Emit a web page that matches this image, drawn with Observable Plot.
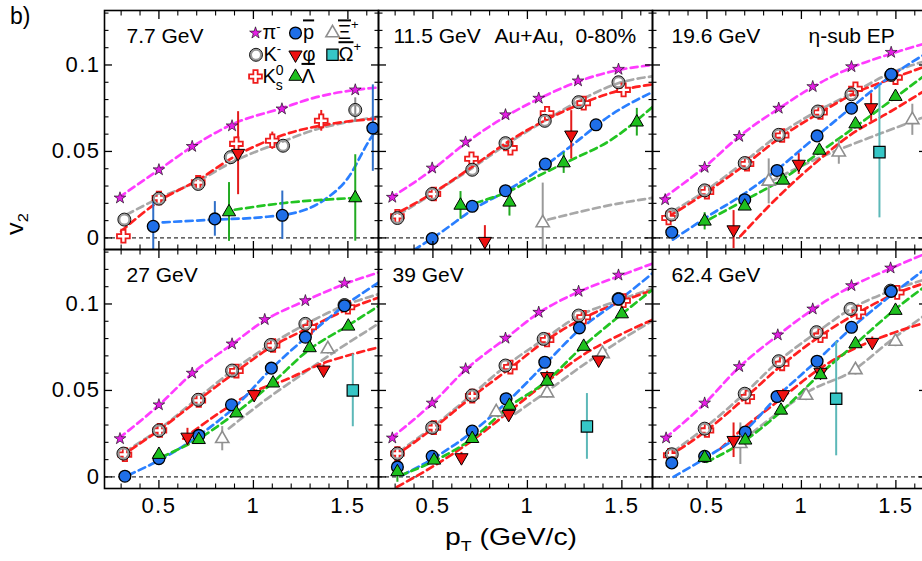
<!DOCTYPE html>
<html><head><meta charset="utf-8">
<script src="https://cdn.jsdelivr.net/npm/d3@7"></script>
<script src="https://cdn.jsdelivr.net/npm/@observablehq/plot@0.6"></script>
<style>
html,body{margin:0;padding:0;background:#fff;overflow:hidden;}
#wrap{position:relative;width:922px;height:561px;font-family:"Liberation Sans",Arial,Helvetica,sans-serif;color:#000;}
#chart svg g[aria-label$="tick label"] text{letter-spacing:1.5px;}
.ov{position:absolute;white-space:nowrap;line-height:1;}
</style></head><body>
<div id="wrap"><div id="chart"></div>
<div class="ov" style="left:10px;top:5px;font-size:23px;">b)</div>
<div class="ov" style="left:17px;top:224px;font-size:23px;transform:translate(-50%,-50%) rotate(-90deg) scaleX(1.1);">v<sub style="font-size:15px">2</sub></div>
<div class="ov" style="left:511px;top:525px;font-size:24px;transform:translateX(-50%) scaleX(1.18);">p<sub style="font-size:15px">T</sub> (GeV/c)</div>
</div>
<script>
// ---------------- data: [energy, pT, v2, error] ----------------
const energies = ["7.7","11.5","19.6","27","39","62.4"];
const xMajor = [0.5,1,1.5];
const xMinor = [0.3,0.4,0.6,0.7,0.8,0.9,1.1,1.2,1.3,1.4,1.6];
const yMajor = [0,0.05,0.1];
const yMinor = [0.01,0.02,0.03,0.04,0.06,0.07,0.08,0.09,0.11,0.12,0.13];

const pionPts = [
["7.7",0.294,0.0231],["7.7",0.5,0.0394],["7.7",0.676,0.0529],["7.7",0.887,0.0648],["7.7",1.151,0.0746],["7.7",1.539,0.0856],
["11.5",0.285,0.0235],["11.5",0.496,0.0404],["11.5",0.673,0.0554],["11.5",0.884,0.0712],["11.5",1.06,0.0808],["11.5",1.268,0.0908],["11.5",1.482,0.0975],
["19.6",0.279,0.0221],["19.6",0.488,0.0408],["19.6",0.671,0.0587],["19.6",0.88,0.075],["19.6",1.06,0.0875],["19.6",1.265,0.099],["19.6",1.475,0.1073],
["27",0.294,0.0221],["27",0.5,0.0417],["27",0.676,0.06],["27",0.887,0.0769],["27",1.06,0.091],["27",1.275,0.1019],["27",1.482,0.1121],
["39",0.285,0.0225],["39",0.496,0.0427],["39",0.673,0.0625],["39",0.884,0.0802],["39",1.06,0.0952],["39",1.271,0.1073],["39",1.482,0.1167],
["62.4",0.284,0.0225],["62.4",0.488,0.0427],["62.4",0.671,0.0638],["62.4",0.875,0.0821],["62.4",1.06,0.0971],["62.4",1.265,0.1106],["62.4",1.472,0.1208]];
const pionFit = [
["7.7",0.29,0.0235],["7.7",0.5,0.0394],["7.7",0.68,0.053],["7.7",0.89,0.0658],["7.7",1.15,0.075],["7.7",1.32,0.081],["7.7",1.54,0.0856],["7.7",1.665,0.087],
["11.5",0.276,0.0231],["11.5",0.496,0.0394],["11.5",0.673,0.0548],["11.5",0.884,0.0702],["11.5",1.06,0.0804],["11.5",1.268,0.0904],["11.5",1.482,0.0971],["11.5",1.665,0.1],
["19.6",0.27,0.0231],["19.6",0.488,0.041],["19.6",0.671,0.0587],["19.6",0.88,0.0748],["19.6",1.06,0.0873],["19.6",1.265,0.0985],["19.6",1.475,0.1065],["19.6",1.665,0.1128],
["27",0.29,0.0225],["27",0.5,0.0415],["27",0.676,0.0598],["27",0.887,0.0767],["27",1.06,0.0905],["27",1.275,0.1019],["27",1.482,0.1115],["27",1.665,0.1183],
["39",0.28,0.0225],["39",0.496,0.0425],["39",0.673,0.062],["39",0.884,0.08],["39",1.06,0.0948],["39",1.271,0.107],["39",1.482,0.116],["39",1.665,0.1235],
["62.4",0.28,0.0225],["62.4",0.488,0.0425],["62.4",0.671,0.0635],["62.4",0.875,0.0818],["62.4",1.06,0.0968],["62.4",1.265,0.1102],["62.4",1.472,0.1205],["62.4",1.665,0.1295]];

const kPts = [
["7.7",0.317,0.0106],["7.7",0.5,0.0227],["7.7",0.708,0.0312],["7.7",0.88,0.0467],["7.7",1.157,0.0533],["7.7",1.539,0.074,0.007],
["11.5",0.312,0.0115],["11.5",0.496,0.0254],["11.5",0.708,0.0394],["11.5",0.884,0.0548],["11.5",1.092,0.0677],["11.5",1.271,0.0785],["11.5",1.482,0.09],
["19.6",0.314,0.0135],["19.6",0.488,0.0275],["19.6",0.7,0.0433],["19.6",0.88,0.0596],["19.6",1.087,0.0731],["19.6",1.265,0.0831],["19.6",1.475,0.0942],
["27",0.312,0.0135],["27",0.5,0.0269],["27",0.708,0.0446],["27",0.887,0.0615],["27",1.092,0.0763],["27",1.275,0.0885],["27",1.482,0.0994],
["39",0.312,0.0135],["39",0.496,0.0285],["39",0.708,0.0471],["39",0.884,0.0644],["39",1.086,0.0798],["39",1.271,0.0933],["39",1.482,0.1029],
["62.4",0.314,0.0131],["62.4",0.488,0.0279],["62.4",0.7,0.0481],["62.4",0.88,0.0669],["62.4",1.08,0.0837],["62.4",1.26,0.0971],["62.4",1.472,0.1077]];
const kFit = [
["7.7",0.33,0.0135],["7.7",0.5,0.023],["7.7",0.7,0.0325],["7.7",0.9,0.0445],["7.7",1.157,0.0558],["7.7",1.324,0.0625],["7.7",1.5,0.067],["7.7",1.665,0.0702],
["11.5",0.32,0.0135],["11.5",0.496,0.0254],["11.5",0.708,0.0404],["11.5",0.9,0.0548],["11.5",1.1,0.0683],["11.5",1.27,0.079],["11.5",1.48,0.0894],["11.5",1.665,0.0935],
["19.6",0.32,0.0154],["19.6",0.488,0.0269],["19.6",0.7,0.0442],["19.6",0.88,0.0596],["19.6",1.08,0.0731],["19.6",1.26,0.0831],["19.6",1.47,0.0952],["19.6",1.665,0.1025],
["27",0.32,0.0145],["27",0.5,0.0275],["27",0.7,0.045],["27",0.89,0.0615],["27",1.09,0.0765],["27",1.28,0.0885],["27",1.48,0.099],["27",1.665,0.1058],
["39",0.32,0.0145],["39",0.5,0.029],["39",0.7,0.047],["39",0.89,0.0645],["39",1.09,0.0798],["39",1.27,0.093],["39",1.48,0.102],["39",1.665,0.109],
["62.4",0.32,0.0145],["62.4",0.49,0.0285],["62.4",0.7,0.0483],["62.4",0.88,0.067],["62.4",1.08,0.0835],["62.4",1.26,0.097],["62.4",1.47,0.1075],["62.4",1.665,0.1145]];

const ksPts = [
["7.7",0.312,0.001,0.004],["7.7",0.5,0.0231],["7.7",0.708,0.0321],["7.7",0.91,0.0544,0.004],["7.7",1.1,0.0562,0.005],["7.7",1.359,0.0677,0.006],
["11.5",0.312,0.0125],["11.5",0.505,0.0254],["11.5",0.704,0.0458],["11.5",0.91,0.0519],["11.5",1.104,0.0721],["11.5",1.298,0.0779],["11.5",1.509,0.0856],
["19.6",0.297,0.0115],["19.6",0.5,0.0265],["19.6",0.712,0.0427],["19.6",0.898,0.0592],["19.6",1.101,0.0725],["19.6",1.286,0.0862],["19.6",1.498,0.0927],
["27",0.32,0.0129],["27",0.505,0.0269],["27",0.711,0.0442],["27",0.91,0.0612],["27",1.104,0.076],["27",1.298,0.0865],["27",1.5,0.0981],
["39",0.312,0.0135],["39",0.505,0.0285],["39",0.708,0.0467],["39",0.91,0.0635],["39",1.104,0.0792],["39",1.298,0.0923],["39",1.509,0.1019],
["62.4",0.306,0.0125],["62.4",0.5,0.0269],["62.4",0.716,0.0462],["62.4",0.898,0.0654],["62.4",1.101,0.0817],["62.4",1.304,0.0952],["62.4",1.507,0.1067]];
const ksFit = [
["7.7",0.3,0.0038],["7.7",0.5,0.0212],["7.7",0.71,0.0337],["7.7",0.9,0.047],["7.7",1.16,0.0596],["7.7",1.43,0.0663],["7.7",1.665,0.069],
["11.5",0.33,0.0154],["11.5",0.5,0.026],["11.5",0.71,0.0413],["11.5",0.9,0.0558],["11.5",1.1,0.0683],["11.5",1.29,0.0779],["11.5",1.5,0.0856],["11.5",1.665,0.0888],
["19.6",0.3,0.0125],["19.6",0.5,0.0265],["19.6",0.71,0.043],["19.6",0.9,0.059],["19.6",1.1,0.0725],["19.6",1.29,0.084],["19.6",1.5,0.093],["19.6",1.665,0.0995],
["27",0.3,0.012],["27",0.5,0.027],["27",0.71,0.0445],["27",0.91,0.061],["27",1.1,0.0755],["27",1.3,0.0865],["27",1.5,0.097],["27",1.665,0.1038],
["39",0.3,0.012],["39",0.5,0.028],["39",0.71,0.0465],["39",0.91,0.063],["39",1.1,0.079],["39",1.3,0.092],["39",1.5,0.1015],["39",1.665,0.108],
["62.4",0.3,0.012],["62.4",0.5,0.027],["62.4",0.71,0.0465],["62.4",0.9,0.065],["62.4",1.1,0.0815],["62.4",1.3,0.095],["62.4",1.5,0.106],["62.4",1.665,0.1125]];

const pbarPts = [
["7.7",0.47,0.0067,0.014],["7.7",0.796,0.011,0.01],["7.7",1.153,0.0131,0.014],["7.7",1.632,0.0635,0.025],
["11.5",0.496,-0.0004],["11.5",0.708,0.0183],["11.5",0.884,0.0273],["11.5",1.095,0.0427],["11.5",1.363,0.0654],
["19.6",0.314,0.0033],["19.6",0.7,0.0221],["19.6",0.871,0.039],["19.6",1.083,0.059],["19.6",1.265,0.075],["19.6",1.475,0.0946],
["27",0.32,0.0004],["27",0.5,0.0106],["27",0.711,0.024],["27",0.884,0.0417],["27",1.095,0.0629],["27",1.275,0.0808],["27",1.482,0.099],
["39",0.312,0.0058],["39",0.496,0.0119],["39",0.708,0.0265],["39",0.887,0.0452],["39",1.092,0.0663],["39",1.275,0.0862],["39",1.482,0.1029],
["62.4",0.314,0.0081],["62.4",0.488,0.0119],["62.4",0.703,0.026],["62.4",0.871,0.0465],["62.4",1.083,0.0669],["62.4",1.265,0.0865],["62.4",1.475,0.1073]];
const pbarFit = [
["7.7",0.52,0.009],["7.7",0.8,0.0106],["7.7",1.04,0.0119],["7.7",1.25,0.0154],["7.7",1.39,0.0231],["7.7",1.5,0.0346],["7.7",1.61,0.0558],["7.7",1.665,0.065],
["11.5",0.4,-0.007],["11.5",0.55,0.0038],["11.5",0.71,0.0163],["11.5",0.9,0.0279],["11.5",1.1,0.0423],["11.5",1.25,0.0548],["11.5",1.43,0.0702],["11.5",1.665,0.0845],
["19.6",0.32,-0.001],["19.6",0.52,0.0135],["19.6",0.69,0.025],["19.6",0.87,0.0394],["19.6",1.08,0.0587],["19.6",1.26,0.075],["19.6",1.47,0.0933],["19.6",1.665,0.107],
["27",0.338,0.001],["27",0.549,0.0125],["27",0.725,0.025],["27",0.901,0.0404],["27",1.095,0.0625],["27",1.289,0.0817],["27",1.482,0.099],["27",1.665,0.1125],
["39",0.338,0.001],["39",0.514,0.0115],["39",0.708,0.026],["39",0.901,0.0442],["39",1.095,0.0654],["39",1.271,0.0846],["39",1.482,0.1019],["39",1.665,0.118],
["62.4",0.323,0],["62.4",0.5,0.0115],["62.4",0.703,0.0269],["62.4",0.871,0.0462],["62.4",1.083,0.0673],["62.4",1.26,0.0856],["62.4",1.472,0.1048],["62.4",1.665,0.121]];

const phiPts = [
["7.7",0.919,0.049,0.024],
["11.5",0.775,-0.0019,0.009],["11.5",1.232,0.0596,0.014],
["19.6",0.641,0.0048,0.011],["19.6",0.986,0.0427,0.006],["19.6",1.369,0.0754,0.008],
["27",0.651,0.0231,0.005],["27",1.004,0.0477,0.003],["27",1.371,0.0619,0.003],
["39",0.651,0.0112,0.003],["39",0.901,0.0362,0.003],["39",1.104,0.0581,0.003],["39",1.377,0.0677,0.003],
["62.4",0.641,0.0212,0.01],["62.4",0.903,0.0477,0.003],["62.4",1.101,0.0606,0.003],["62.4",1.375,0.0779,0.003]];
const phiFit = [
["19.6",0.677,0.001],["19.6",0.871,0.0231],["19.6",1.083,0.0442],["19.6",1.26,0.0596],["19.6",1.472,0.0731],["19.6",1.665,0.086],
["27",0.629,0.0221],["27",0.813,0.0365],["27",0.998,0.049],["27",1.183,0.0567],["27",1.359,0.0654],["27",1.5,0.0702],["27",1.665,0.075],
["39",0.31,-0.0058],["39",0.496,0.0058],["39",0.71,0.0212],["39",0.9,0.0375],["39",1.1,0.0548],["39",1.29,0.0702],["39",1.5,0.0827],["39",1.665,0.091],
["62.4",0.571,0.0163],["62.4",0.69,0.0279],["62.4",0.871,0.0433],["62.4",1.083,0.0615],["62.4",1.26,0.0731],["62.4",1.472,0.0827],["62.4",1.665,0.0895]];

const lamPts = [
["7.7",0.871,0.015,0.017],["7.7",1.539,0.0231,0.025],
["11.5",0.646,0.0188,0.008],["11.5",0.905,0.0206,0.008],["11.5",1.192,0.0433,0.006],["11.5",1.579,0.0669,0.008],
["19.6",0.488,0.0096,0.005],["19.6",0.7,0.0183],["19.6",0.903,0.0333],["19.6",1.095,0.0506],["19.6",1.286,0.0658],["19.6",1.498,0.0817],
["27",0.5,0.0129],["27",0.711,0.0215],["27",0.91,0.0369],["27",1.104,0.0542],["27",1.298,0.0746],["27",1.502,0.0871],
["39",0.312,0.0029,0.006],["39",0.506,0.0096],["39",0.708,0.0221],["39",0.905,0.0413],["39",1.104,0.0552],["39",1.298,0.0754],["39",1.5,0.0942],
["62.4",0.488,0.0112],["62.4",0.703,0.0212],["62.4",0.892,0.0385],["62.4",1.101,0.059],["62.4",1.286,0.0769],["62.4",1.498,0.0962]];
const lamFit = [
["7.7",0.901,0.0163],["7.7",1.165,0.0202],["7.7",1.535,0.0231],
["11.5",0.725,0.0202],["11.5",0.901,0.0269],["11.5",1.07,0.0365],["11.5",1.254,0.0462],["11.5",1.43,0.0558],["11.5",1.665,0.076],
["19.6",0.46,0.0077],["19.6",0.69,0.0212],["19.6",0.91,0.0346],["19.6",1.09,0.049],["19.6",1.3,0.0654],["19.6",1.665,0.095],
["27",0.514,0.0115],["27",0.725,0.0231],["27",0.901,0.0365],["27",1.095,0.0538],["27",1.289,0.0731],["27",1.5,0.0875],["27",1.665,0.099],
["39",0.329,0.001],["39",0.514,0.0096],["39",0.708,0.0221],["39",0.901,0.0404],["39",1.095,0.0548],["39",1.289,0.075],["39",1.5,0.0942],["39",1.665,0.1085],
["62.4",0.5,0.0087],["62.4",0.703,0.0212],["62.4",0.889,0.0375],["62.4",1.101,0.0596],["62.4",1.286,0.0769],["62.4",1.498,0.0971],["62.4",1.665,0.111]];

const xiPts = [
["11.5",1.081,0.0087,0.023],
["19.6",0.827,0.0327,0.013],["19.6",1.198,0.0496,0.007],["19.6",1.587,0.0683,0.009],
["27",0.835,0.0221,0.007],["27",1.394,0.074,0.003],
["39",0.835,0.0375,0.003],["39",1.104,0.0485,0.003],["39",1.398,0.0712,0.003],
["62.4",0.677,0.0192,0.012],["62.4",1.025,0.0471,0.003],["62.4",1.286,0.0619,0.003],["62.4",1.498,0.0783,0.003]];
const xiFit = [
["11.5",1.11,0.0106],["11.5",1.25,0.0144],["11.5",1.43,0.0188],["11.5",1.665,0.0232],
["19.6",0.84,0.0327],["19.6",1.05,0.0442],["19.6",1.22,0.052],["19.6",1.4,0.0596],["19.6",1.665,0.0705],
["27",0.87,0.028],["27",1.07,0.045],["27",1.23,0.0573],["27",1.44,0.0731],["27",1.665,0.0888],
["39",0.935,0.0365],["39",1.11,0.05],["39",1.28,0.0635],["39",1.49,0.0788],["39",1.665,0.0905],
["62.4",0.69,0.0212],["62.4",0.87,0.0365],["62.4",1.048,0.05],["62.4",1.26,0.0606],["62.4",1.472,0.0788],["62.4",1.665,0.0945]];

const omPts = [
["19.6",1.413,0.0496,0.038],["27",1.526,0.05,0.021],["39",1.315,0.0292,0.019],["62.4",1.184,0.0452,0.033]];

const panelNames = ["7.7 GeV","11.5 GeV","19.6 GeV","27 GeV","39 GeV","62.4 GeV"];

// ---------------- layout / styles ----------------
const fc = e => energies.indexOf(e) % 3;
const fr = e => Math.floor(energies.indexOf(e) / 3);
const rows = a => a.map(([e,x,y,err=0]) => ({e,x,y,err,c:fc(e),r:fr(e)}));
const triDown = {draw(ctx, size){const y=Math.sqrt(size/(Math.sqrt(3)*3)), s=Math.sqrt(3)*y;ctx.moveTo(0,2*y);ctx.lineTo(-s,-y);ctx.lineTo(s,-y);ctx.closePath();}};

const sty = {
  pi:[{symbol:"star", r:3.7, fill:"#e41fe4", stroke:"#000", strokeWidth:0.6}],
  ks:[{symbol:"cross", r:5.4, fill:"#fff", stroke:"#ee1c1c", strokeWidth:1.8}],
  k:[{symbol:"circle", r:5.2, fill:"none", stroke:"#9a9a9a", strokeWidth:2.4},{symbol:"circle", r:6.5, fill:"none", stroke:"#000", strokeWidth:0.9}],
  pbar:[{symbol:"circle", r:5.9, fill:"#1f6fe8", stroke:"#000", strokeWidth:1.3}],
  xi:[{symbol:"triangle", r:4.9, fill:"#fff", stroke:"#8e8e8e", strokeWidth:1.6}],
  phi:[{symbol:triDown, r:4.9, fill:"#ee1111", stroke:"#000", strokeWidth:1}],
  lam:[{symbol:"triangle", r:4.9, fill:"#1ec01e", stroke:"#000", strokeWidth:1}],
  om:[{symbol:"square", r:6.4, fill:"#36c6c6", stroke:"#000", strokeWidth:1.2}]
};
const fits = [[kFit,"#a8a8a8"],[xiFit,"#a8a8a8"],[ksFit,"#ff2020"],[phiFit,"#ff2020"],[pbarFit,"#2a7fff"],[lamFit,"#22c422"],[pionFit,"#ff3cff"]];
const errs = [[kPts,"#8a8a8a"],[ksPts,"#ee1c1c"],[pbarPts,"#2f6fc8"],[xiPts,"#9a9a9a"],[phiPts,"#e31b1b"],[lamPts,"#22aa22"],[omPts,"#5cb8b8"]];
const dots = [[ksPts,"ks"],[kPts,"k"],[pionPts,"pi"],[pbarPts,"pbar"],[xiPts,"xi"],[phiPts,"phi"],[lamPts,"lam"],[omPts,"om"]];

const legend = [
 {key:"pi", text:"π-", sx:151, sy:22.5, tx:158},
 {key:"pbar", text:"[pbar]", sx:191, sy:22.5, tx:198.5},
 {key:"xi", text:"[xi]", sx:228, sy:22.5, tx:233.5},
 {key:"k", text:"K-", sx:151.5, sy:44.3, tx:159},
 {key:"phi", text:"φ", sx:191, sy:44.3, tx:198},
 {key:"om", text:"[om]", sx:228, sy:44.3, tx:234},
 {key:"ks", text:"[ks]", sx:151, sy:66, tx:158},
 {key:"lam", text:"[lam]", sx:191, sy:66, tx:197}
];
const labelDx = [22,15,19,22,14,19];
const extras = [["11.5","Au+Au,",116],["11.5","0-80%",197],["19.6","η-sub EP",156]];

const marks = [];
marks.push(Plot.ruleY([0], {stroke:"#000", strokeWidth:1, strokeDasharray:"4,3"}));
for (const [arr, stroke] of fits)
  marks.push(Plot.line(rows(arr), {x:"x", y:"y", z:"e", fx:"c", fy:"r", stroke, strokeWidth:2.7, strokeDasharray:"7,4.5", curve:"monotone-x", clip:true}));
for (const [arr, stroke] of errs)
  marks.push(Plot.ruleX(rows(arr).filter(d => d.err > 0), {x:"x", y1:d => d.y - d.err, y2:d => d.y + d.err, fx:"c", fy:"r", stroke, strokeWidth:2, clip:true}));
for (const [arr, key] of dots)
  for (const s of sty[key]) marks.push(Plot.dot(rows(arr), {x:"x", y:"y", fx:"c", fy:"r", clip:true, ...s}));

// panel labels
panelNames.forEach((t, i) => marks.push(Plot.text([{t, c:i%3, r:Math.floor(i/3)}], {text:"t", fx:"c", fy:"r", frameAnchor:"top-left", lineAnchor:"middle", textAnchor:"start", dx:labelDx[i], dy:26, fontSize:21})));
extras.forEach(([e, t, dx]) => marks.push(Plot.text([{t, c:fc(e), r:fr(e)}], {text:"t", fx:"c", fy:"r", frameAnchor:"top-left", lineAnchor:"middle", textAnchor:"start", dx, dy:26, fontSize:21})));
// legend (in first panel)
for (const L of legend) {
  for (const s of sty[L.key]) marks.push(Plot.dot([{c:0, r:0}], {fx:"c", fy:"r", frameAnchor:"top-left", dx:L.sx, dy:L.sy, ...s}));
  marks.push(Plot.text([{t:L.text, c:0, r:0}], {text:"t", fx:"c", fy:"r", frameAnchor:"top-left", lineAnchor:"middle", textAnchor:"start", dx:L.tx, dy:L.sy, fontSize:20}));
}
// ticks on all sides, inward
for (const anchor of ["top","bottom"]) {
  marks.push(Plot.axisX({anchor, ticks:xMajor, tickSize:-8, fill:"none", tickFormat:() => "", label:null, facetAnchor:null, strokeWidth:1.3}));
  marks.push(Plot.axisX({anchor, ticks:xMinor, tickSize:-4.5, fill:"none", tickFormat:() => "", label:null, facetAnchor:null, strokeWidth:1.1}));
}
for (const anchor of ["left","right"]) {
  marks.push(Plot.axisY({anchor, ticks:yMajor, tickSize:-8, fill:"none", tickFormat:() => "", label:null, facetAnchor:null, strokeWidth:1.3}));
  marks.push(Plot.axisY({anchor, ticks:yMinor, tickSize:-4.5, fill:"none", tickFormat:() => "", label:null, facetAnchor:null, strokeWidth:1.1}));
}
marks.push(Plot.axisX({anchor:"bottom", ticks:xMajor, tickSize:0, tickPadding:9, label:null, tickFormat:d => String(d)}));
marks.push(Plot.axisY({anchor:"left", ticks:yMajor, tickSize:0, tickPadding:4, label:null, tickFormat:d => String(d)}));
marks.push(Plot.frame({stroke:"#000", strokeWidth:1.6}));

const chart = Plot.plot({
  width:922, height:522,
  marginLeft:102.5, marginRight:-4.5, marginTop:9, marginBottom:34,
  x:{domain:[0.212,1.662]}, y:{domain:[-0.0067,0.1315]},
  fx:{padding:0, axis:null, domain:[0,1,2]}, fy:{padding:0, axis:null, domain:[0,1]},
  style:{fontFamily:"'Liberation Sans', Arial, Helvetica, sans-serif", fontSize:"22px", color:"#000", background:"#fff"},
  marks
});
const ol = s => `<tspan style="text-decoration:overline">${s}</tspan>`;
const repl = {
  "π-": 'π<tspan dy="-8" font-size="13">-</tspan>',
  "K-": 'K<tspan dy="-8" font-size="13">-</tspan>',
  "[ks]": 'K<tspan font-size="14" dy="-8">0</tspan><tspan font-size="14" dx="-7.8" dy="15">s</tspan>',
  "[pbar]": ol("p"),
  "[xi]": ol("Ξ") + '<tspan font-size="13" dy="-10">+</tspan>',
  "[om]": ol("Ω") + '<tspan font-size="13" dy="-10">+</tspan>',
  "[lam]": ol("Λ")
};
chart.querySelectorAll("text").forEach(t => { const k = t.textContent; if (repl[k] !== undefined) t.innerHTML = repl[k]; });
document.getElementById("chart").appendChild(chart);
</script>
</body></html>
